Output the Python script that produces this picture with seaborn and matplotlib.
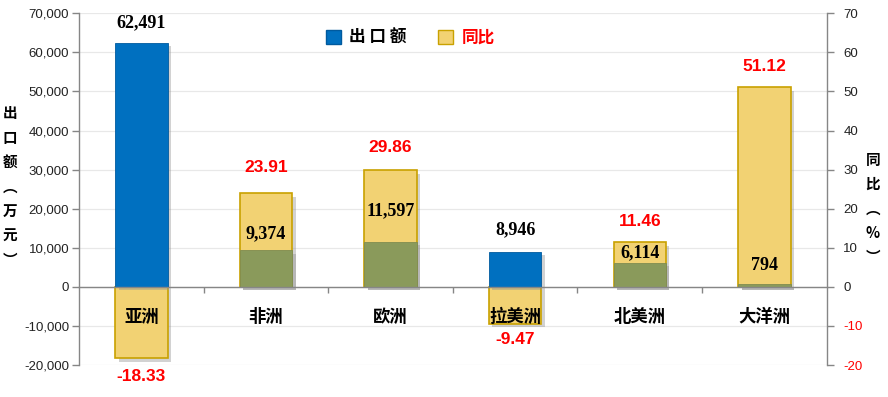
import matplotlib
matplotlib.use("Agg")
import matplotlib.pyplot as plt
import matplotlib.patheffects as pe
from matplotlib.patches import Patch
from matplotlib.ticker import FixedLocator, FuncFormatter
import seaborn as sns
import pandas as pd

# ---------------- data ----------------
regions = ["亚洲", "非洲", "欧洲", "拉美洲", "北美洲", "大洋洲"]
export_value = [62491, 9374, 11597, 8946, 6114, 794]          # 出口额（万元）
yoy = [-18.33, 23.91, 29.86, -9.47, 11.46, 51.12]             # 同比（%）
left_ticks = [-20000, -10000, 0, 10000, 20000, 30000, 40000, 50000, 60000, 70000]
right_ticks = [-20, -10, 0, 10, 20, 30, 40, 50, 60, 70]

# ---------------- style ----------------
BLUE = "#0070C0"
BLUE_EDGE = "#005A9E"
OLIVE = "#8A9A5B"
YELLOW = "#F2D273"
GOLD = "#C9A100"
AXIS_GRAY = "#868686"

# bar colour: olive where the export bar sits inside the yellow bar
bar_colors = [OLIVE if (y > 0 and y * 1000 > v) else BLUE for v, y in zip(export_value, yoy)]
value_label_offsets = [14, 11.5, 22, 16, 7, 13]      # points above bar top
yoy_label_offsets = [-13, 19, 16, -11, 14.5, 15]     # points beyond bar end

sns.set_theme(style="white")
plt.rcParams['font.family'] = ['Liberation Sans', 'Noto Sans CJK SC', 'DejaVu Sans']

df = pd.DataFrame({"region": regions, "value": export_value, "yoy": yoy})

fig = plt.figure(figsize=(8.88, 3.97), dpi=100, facecolor="white")
ax1 = fig.add_axes([0.089, 0.0806, 0.842, 0.886])
ax2 = ax1.twinx()

# yellow yoy bars (secondary axis, lower layer)
sns.barplot(data=df, x="region", y="yoy", ax=ax2, color=YELLOW, width=0.42,
            edgecolor=GOLD, linewidth=1.2, saturation=1)
# export bars (primary axis, upper layer)
sns.barplot(data=df, x="region", y="value", hue="region", palette=bar_colors,
            legend=False, ax=ax1, width=0.42, edgecolor=BLUE_EDGE, linewidth=0.6,
            saturation=1)

ax1.set_zorder(ax2.get_zorder() + 1)
ax1.patch.set_visible(False)
ax2.patch.set_visible(False)

for ax in (ax1, ax2):
    for p in ax.patches:
        p.set_path_effects([pe.SimplePatchShadow(offset=(2.5, -2.5), shadow_rgbFace="#909090", alpha=0.4),
                            pe.Normal()])

for p, c in zip(ax1.patches, bar_colors):
    if c == OLIVE:
        p.set_edgecolor("#7F8C50")

ax1.set_xlim(-0.5, len(regions) - 0.5)
ax1.set_ylim(-20000, 70000)
ax2.set_ylim(-20, 70)
ax1.set_xlabel("")
ax1.set_ylabel("")
ax2.set_xlabel("")
ax2.set_ylabel("")

# grid on the bottom layer
ax2.set_axisbelow(True)
ax2.yaxis.grid(True, color="#E8E8E8", linewidth=0.9)
ax1.grid(False)
ax2.xaxis.grid(False)

# spines
for s in ("top", "right"):
    ax1.spines[s].set_visible(False)
for s in ("top", "left", "bottom"):
    ax2.spines[s].set_visible(False)
ax1.spines["left"].set_color(AXIS_GRAY)
ax1.spines["bottom"].set_color(AXIS_GRAY)
ax1.spines["bottom"].set_position(("data", 0))
ax2.spines["right"].set_color(AXIS_GRAY)
ax2.spines["right"].set_visible(True)
for s in ("left", "bottom"):
    ax1.spines[s].set_linewidth(1.0)
ax2.spines["right"].set_linewidth(1.0)

# y ticks
ax1.yaxis.set_major_locator(FixedLocator(left_ticks))
ax1.yaxis.set_major_formatter(FuncFormatter(lambda v, _: f"{int(v):,}"))
ax1.tick_params(axis="y", which="major", left=True, direction="out", length=5, width=1,
                color=AXIS_GRAY, labelsize=9.5, labelcolor="#222222", pad=2)
ax2.yaxis.set_major_locator(FixedLocator(right_ticks))
ax2.yaxis.set_major_formatter(FuncFormatter(lambda v, _: f"{int(v)}"))
ax2.tick_params(axis="y", which="major", right=True, direction="out", length=5, width=1,
                color=AXIS_GRAY, labelsize=9.5, labelcolor="#222222", pad=7)
for t, v in zip(ax2.get_yticklabels(), right_ticks):
    if v < 0:
        t.set_color("red")

# x ticks: category labels and boundary ticks
ax1.set_xticks(range(len(regions)))
ax1.set_xticklabels(regions, fontfamily=["Noto Sans CJK SC"], fontweight="bold",
                    fontsize=12.5, color="black")
ax1.set_xticks([i + 0.5 for i in range(len(regions) - 1)], minor=True)
ax1.tick_params(axis="x", which="major", bottom=True, length=0, pad=15)
ax1.tick_params(axis="x", which="minor", bottom=True, direction="out", length=4,
                width=1, color=AXIS_GRAY)

# data labels
for i, (v, off) in enumerate(zip(export_value, value_label_offsets)):
    ax1.annotate(f"{v:,}", xy=(i, v), xytext=(0, off), textcoords="offset points",
                 ha="center", va="center", fontfamily=["Liberation Serif"],
                 fontweight="bold", fontsize=13, color="black", zorder=10)
for i, (y, off) in enumerate(zip(yoy, yoy_label_offsets)):
    ax2.annotate(f"{y:.2f}", xy=(i, y), xytext=(0, off), textcoords="offset points",
                 ha="center", va="center", fontfamily=["Liberation Sans"],
                 fontweight="bold", fontsize=12.5, color="red")

# axis titles (stacked vertical text)
fig.text(10 / 888, 0.53, "出\n口\n额\n︵\n万\n元\n︶", ha="center", va="center",
         fontfamily=["Noto Sans CJK SC", "DejaVu Sans"], fontweight="bold",
         fontsize=10.5, linespacing=1.65, color="black")
fig.text(873 / 888, 0.475, "同\n比\n︵\n%\n︶", ha="center", va="center",
         fontfamily=["Noto Sans CJK SC", "DejaVu Sans"], fontweight="bold",
         fontsize=10.5, linespacing=1.65, color="black")

# legend
handles = [Patch(facecolor=BLUE, edgecolor=BLUE_EDGE), Patch(facecolor=YELLOW, edgecolor=GOLD)]
leg = fig.legend(handles, ["出 口 额", "同比"], loc="center", bbox_to_anchor=(0.462, 0.905),
                 ncol=2, frameon=False, handlelength=0.9, handleheight=0.9,
                 handletextpad=0.5, columnspacing=1.9,
                 prop={"family": ["Noto Sans CJK SC"], "weight": "bold", "size": 12})
leg.get_texts()[0].set_color("black")
leg.get_texts()[1].set_color("red")

fig.savefig("out.png", dpi=100, facecolor="white")
